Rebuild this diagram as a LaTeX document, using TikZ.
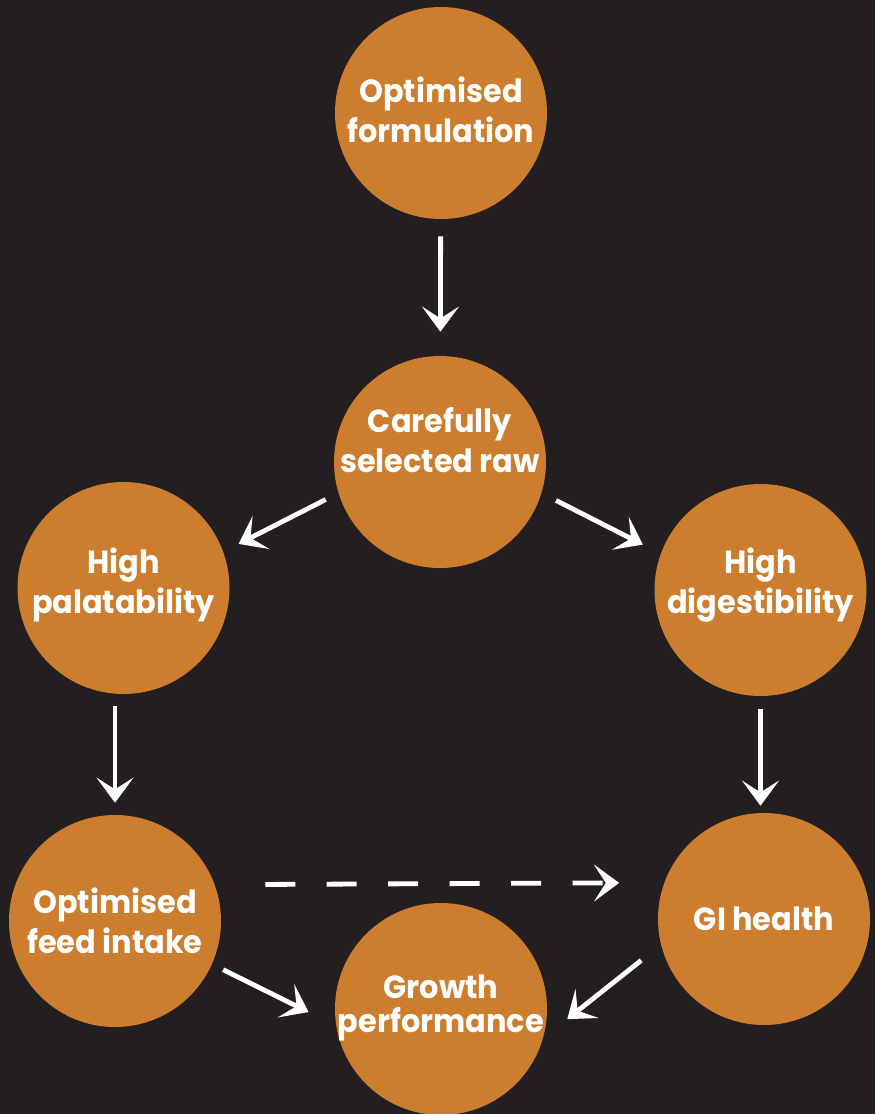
\documentclass[tikz,border=0pt]{standalone}
\usepackage{fontspec}
\setmainfont{Poppins}[FakeStretch=0.95]
\usetikzlibrary{arrows.meta}

\definecolor{bgdark}{HTML}{231F20}
\definecolor{feedorange}{HTML}{CC7D2E}

\tikzset{
  disc/.style={circle, fill=feedorange, minimum size=159pt, inner sep=0pt},
  txt/.style={text=white, align=center, font=\fontsize{24}{30}\selectfont\bfseries},
  arr/.style={draw=white, line width=3.6pt,
    -{Stealth[length=19pt, width=28pt, inset=9pt, line width=0pt]}}
}

\begin{document}
\begin{tikzpicture}[x=0.75pt, y=-0.75pt]
  \fill[bgdark] (0,0) rectangle (875,1114);
  \useasboundingbox (0,0) rectangle (875,1114);

  \node[disc] (form) at (441,113) {};
  \node[disc] (raw) at (440,462) {};
  \node[disc] (pal) at (123.5,588) {};
  \node[disc] (dig) at (760.5,590) {};
  \node[disc] (feed) at (115,921) {};
  \node[disc] (gi) at (764,919) {};
  \node[disc] (growth) at (441,1009) {};

  \node[txt] (formtxt) at (441,110) {Optimised\\formulation};
  \node[txt] (rawtxt) at (440,440.5) {Carefully\\selected raw};
  \node[txt] (paltxt) at (123.5,585) {High\\palatability};
  \node[txt] (digtxt) at (760.5,585.5) {High\\digestibility};
  \node[txt] (feedtxt) at (115,920.5) {Optimised\\feed intake};
  \node[txt] (gitxt) at (764,918.5) {GI health};
  \node[txt, font=\fontsize{24}{25.5}\selectfont\bfseries] (growthtxt) at (441,1008) {Growth\\performance};

  \draw[arr, shorten <=12.75pt, shorten >=18pt] (form) -- (raw);
  \draw[arr, shorten <=10.7pt, shorten >=12.8pt] (raw.197.4) -- (pal.20.7);
  \draw[arr, shorten <=12.2pt, shorten >=15pt] (raw.343.3) -- (dig.160.3);
  \draw[arr, shorten <=9pt, shorten >=9pt] (pal.south -| feed.north) -- (feed.north);
  \draw[arr, shorten <=9.75pt, shorten >=5.25pt] (dig.south) -- (dig.south |- gi.north);
  \draw[arr, dash pattern=on 22.5pt off 23.6pt, shorten <=37.8pt, shorten >=33.75pt] (feed.20) -- (gi.160.5);
  \draw[arr, shorten <=9.2pt, shorten >=23pt] (feed.336.4) -- (growth.189.1);
  \draw[arr, shorten <=18.9pt, shorten >=23.1pt] (gi.194.9) -- (growth.344);
\end{tikzpicture}
\end{document}
